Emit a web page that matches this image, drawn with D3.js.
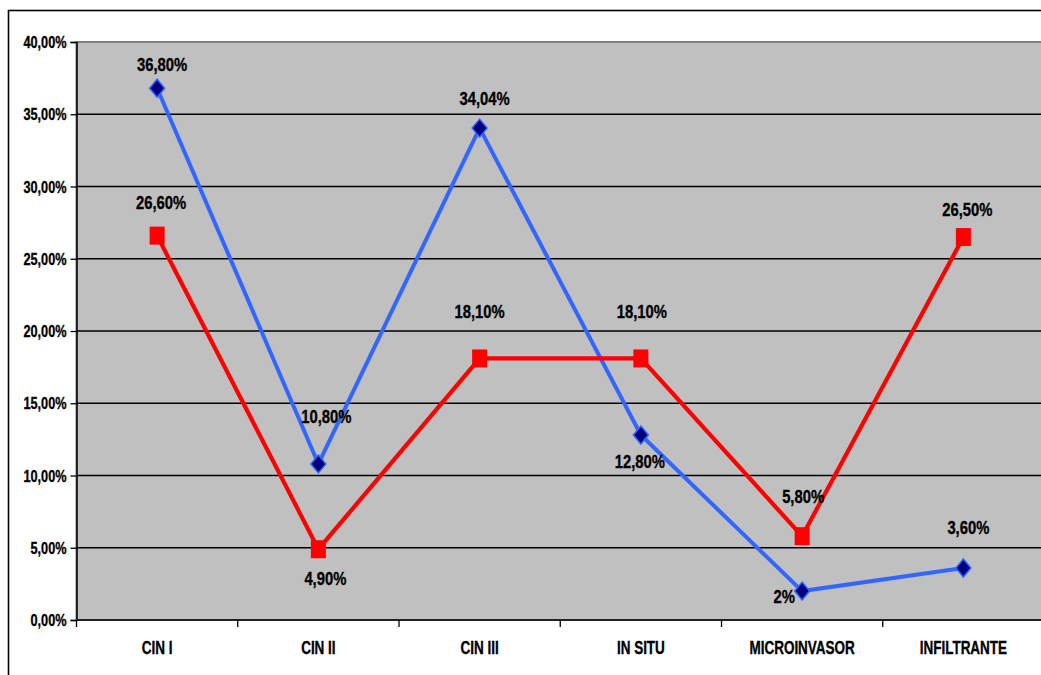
<!DOCTYPE html>
<html>
<head>
<meta charset="utf-8">
<script src="https://cdn.jsdelivr.net/npm/d3@7/dist/d3.min.js"></script>
<style>
  html, body { margin: 0; padding: 0; background: #fff; }
  svg { display: block; }
  text { font-family: "Liberation Sans", Arial, sans-serif; font-weight: bold; fill: #000; stroke: #000; stroke-width: 0.35px; }
</style>
</head>
<body>
<svg id="chart" width="1041" height="675"></svg>
<script>
// Categories and the two series (percent values)
const categories = ["CIN I", "CIN II", "CIN III", "IN SITU", "MICROINVASOR", "INFILTRANTE"];
const blueValues = [36.80, 10.80, 34.04, 12.80, 2, 3.60];
const redValues  = [26.60, 4.90, 18.10, 18.10, 5.80, 26.50];
const blueLabels = ["36,80%", "10,80%", "34,04%", "12,80%", "2%", "3,60%"];
const redLabels  = ["26,60%", "4,90%", "18,10%", "18,10%", "5,80%", "26,50%"];
const yTicks = [0, 5, 10, 15, 20, 25, 30, 35, 40];
const yTickLabels = ["0,00%", "5,00%", "10,00%", "15,00%", "20,00%", "25,00%", "30,00%", "35,00%", "40,00%"];

// Label placement relative to each marker (dx, dy to baseline)
const blueLabelOffset = [[5, -17], [8, -41], [5, -23], [-1, 33], [-18, 12], [5, -34]];
const redLabelOffset  = [[4, -27], [7, 36], [0, -40], [1, -40], [1, -33], [4, -21]];

const svg = d3.select("#chart");
const plot = { left: 76.5, right: 1044, top: 42, bottom: 620 };

const x = d3.scaleBand().domain(categories).range([plot.left, plot.right]).paddingInner(0).paddingOuter(0);
const y = d3.scaleLinear().domain([0, 40]).range([plot.bottom, plot.top]);
const cx = c => x(c) + x.bandwidth() / 2;

// Condensed text helper: text is narrowed horizontally
function ctext(g, tx, ty, str, size, sx, anchor) {
  return g.append("text")
    .attr("transform", `translate(${tx},${ty}) scale(${sx},1)`)
    .attr("text-anchor", anchor || "middle")
    .style("font-size", size + "px")
    .text(str);
}

// Outer chart frame
svg.append("rect")
  .attr("x", 8.5).attr("y", 10.5)
  .attr("width", 1100).attr("height", 700)
  .attr("fill", "#fff").attr("stroke", "#000").attr("stroke-width", 1.6);

// Plot area
svg.append("rect")
  .attr("x", plot.left).attr("y", plot.top)
  .attr("width", plot.right - plot.left).attr("height", plot.bottom - plot.top)
  .attr("fill", "#C0C0C0").attr("stroke", "#808080").attr("stroke-width", 2);

// Horizontal gridlines
svg.append("g").selectAll("line")
  .data(yTicks.filter(t => t > 0 && t < 40))
  .join("line")
  .attr("x1", plot.left).attr("x2", plot.right)
  .attr("y1", d => y(d)).attr("y2", d => y(d))
  .attr("stroke", "#000").attr("stroke-width", 1.3);

// Y axis
const yAxis = svg.append("g").attr("transform", `translate(${plot.left},0)`)
  .call(d3.axisLeft(y).tickValues(yTicks).tickSize(6).tickFormat(""));
yAxis.select(".domain").attr("stroke", "#000").attr("stroke-width", 1.5);
yAxis.selectAll(".tick line").attr("stroke", "#000").attr("stroke-width", 1.3);
yTicks.forEach((t, i) => {
  ctext(svg, plot.left - 10, y(t) + 6, yTickLabels[i], 16.5, 0.77, "end");
});

// X axis with ticks at category boundaries
const xAxisG = svg.append("g").attr("transform", `translate(0,${plot.bottom})`);
xAxisG.append("line")
  .attr("x1", plot.left).attr("x2", plot.right)
  .attr("y1", 0).attr("y2", 0)
  .attr("stroke", "#222").attr("stroke-width", 2.2);
xAxisG.selectAll("line.tick")
  .data(categories)
  .join("line").attr("class", "tick")
  .attr("x1", d => x(d)).attr("x2", d => x(d))
  .attr("y1", 0).attr("y2", 7)
  .attr("stroke", "#000").attr("stroke-width", 1.3);
categories.forEach(c => {
  ctext(svg, cx(c), 654, c, 18, 0.75, "middle");
});

// Series lines
const line = d3.line().x((d, i) => cx(categories[i])).y(d => y(d));

svg.append("path").datum(blueValues)
  .attr("d", line).attr("fill", "none")
  .attr("stroke", "#3366FF").attr("stroke-width", 4).attr("stroke-linejoin", "miter");

svg.append("path").datum(redValues)
  .attr("d", line).attr("fill", "none")
  .attr("stroke", "#FF0000").attr("stroke-width", 4.2).attr("stroke-linejoin", "miter");

// Markers: navy diamonds for the blue series
svg.append("g").selectAll("path")
  .data(blueValues)
  .join("path")
  .attr("transform", (d, i) => `translate(${cx(categories[i])},${y(d)})`)
  .attr("d", "M0,-9 L7.5,0 L0,9 L-7.5,0 Z")
  .attr("fill", "#000080").attr("stroke", "#3366FF").attr("stroke-width", 1.5);

// Markers: red squares for the red series
svg.append("g").selectAll("rect")
  .data(redValues)
  .join("rect")
  .attr("x", (d, i) => cx(categories[i]) - 7.5)
  .attr("y", d => y(d) - 9)
  .attr("width", 15).attr("height", 18)
  .attr("fill", "#FF0000");

// Value labels
blueValues.forEach((v, i) => {
  const [dx, dy] = blueLabelOffset[i];
  ctext(svg, cx(categories[i]) + dx, y(v) + dy, blueLabels[i], 19, 0.78, "middle");
});
redValues.forEach((v, i) => {
  const [dx, dy] = redLabelOffset[i];
  ctext(svg, cx(categories[i]) + dx, y(v) + dy, redLabels[i], 19, 0.78, "middle");
});
</script>
</body>
</html>
